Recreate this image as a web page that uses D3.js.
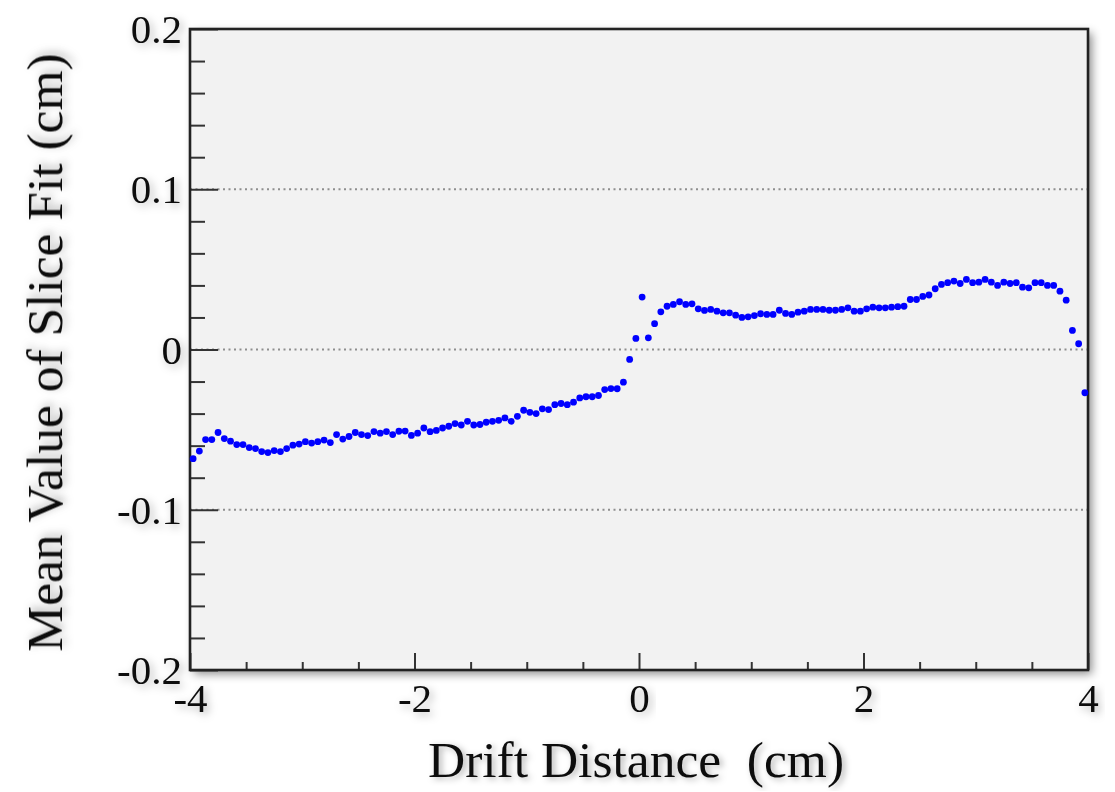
<!DOCTYPE html>
<html>
<head>
<meta charset="utf-8">
<script src="https://cdn.jsdelivr.net/npm/d3@7"></script>
<style>
  body { margin: 0; background: #fff; }
  svg { display: block; }
  .tick text { font-family: "Liberation Serif", "Times New Roman", serif; fill: #111; }
</style>
</head>
<body>
<svg id="chart"></svg>
<script>
// histogram binning of drift distance (cm)
const nBins = 144
const xLo = -4, xHi = 4

// mean value of slice fit per bin (cm)
const meanValues = [
  -0.0681, -0.0634, -0.0562, -0.0562, -0.0518, -0.0556, -0.0572, -0.0593, -0.0593, -0.0612,
  -0.0618, -0.0637, -0.0643, -0.0631, -0.0637, -0.0618, -0.0597, -0.0590, -0.0575, -0.0584,
  -0.0575, -0.0565, -0.0581, -0.0531, -0.0559, -0.0543, -0.0518, -0.0531, -0.0537, -0.0512,
  -0.0522, -0.0512, -0.0531, -0.0510, -0.0509, -0.0536, -0.0522, -0.0490, -0.0513, -0.0505,
  -0.0490, -0.0479, -0.0462, -0.0471, -0.0448, -0.0471, -0.0468, -0.0454, -0.0448, -0.0442,
  -0.0427, -0.0448, -0.0417, -0.0379, -0.0392, -0.0400, -0.0370, -0.0375, -0.0344, -0.0337,
  -0.0344, -0.0329, -0.0302, -0.0295, -0.0295, -0.0287, -0.0250, -0.0244, -0.0245, -0.0204,
  -0.0062, 0.0069, 0.0327, 0.0073, 0.0161, 0.0235, 0.0270, 0.0281, 0.0298, 0.0281,
  0.0285, 0.0254, 0.0244, 0.0250, 0.0239, 0.0229, 0.0229, 0.0214, 0.0200, 0.0204,
  0.0212, 0.0223, 0.0219, 0.0219, 0.0245, 0.0225, 0.0219, 0.0233, 0.0239, 0.0250,
  0.0250, 0.0250, 0.0245, 0.0245, 0.0250, 0.0260, 0.0239, 0.0239, 0.0254, 0.0264,
  0.0260, 0.0260, 0.0264, 0.0267, 0.0270, 0.0312, 0.0312, 0.0331, 0.0340, 0.0379,
  0.0406, 0.0417, 0.0427, 0.0412, 0.0437, 0.0417, 0.0420, 0.0437, 0.0420, 0.0400,
  0.0420, 0.0412, 0.0417, 0.0389, 0.0385, 0.0417, 0.0417, 0.0400, 0.0400, 0.0364,
  0.0308, 0.0119, 0.0036, -0.0270
]

const xMajor = [-4, -2, 0, 2, 4]
const yMajor = [-0.2, -0.1, 0, 0.1, 0.2]
const yGrid = [-0.1, 0, 0.1]

const xTitle = "Drift Distance  (cm)"
const yTitle = "Mean Value of Slice Fit (cm)"

const width = 1115, height = 792
const margin = { top: 29, right: 27, bottom: 122, left: 190 }
const innerWidth = width - margin.left - margin.right
const innerHeight = height - margin.top - margin.bottom

const binW = (xHi - xLo) / nBins
const points = meanValues.map((v, i) => ({ x: xLo + (i + 0.5) * binW, y: v }))

const svg = d3.select("#chart").attr("width", width).attr("height", height)

const defs = svg.append("defs")
defs.append("filter").attr("id", "frameShadow").attr("x", "-5%").attr("y", "-5%").attr("width", "115%").attr("height", "115%")
  .append("feDropShadow").attr("dx", 4).attr("dy", 4).attr("stdDeviation", 5)
  .attr("flood-color", "#000").attr("flood-opacity", 0.45)
defs.append("filter").attr("id", "textShadow").attr("x", "-30%").attr("y", "-30%").attr("width", "160%").attr("height", "160%")
  .append("feDropShadow").attr("dx", 3).attr("dy", 3).attr("stdDeviation", 4)
  .attr("flood-color", "#000").attr("flood-opacity", 0.3)
defs.append("filter").attr("id", "titleShadow").attr("x", "-10%").attr("y", "-20%").attr("width", "120%").attr("height", "125%")
  .append("feDropShadow").attr("dx", 3).attr("dy", 2).attr("stdDeviation", 3)
  .attr("flood-color", "#000").attr("flood-opacity", 0.3)

const group = svg.append("g").attr("transform", `translate(${margin.left}, ${margin.top})`)

const x_scale = d3.scaleLinear().domain([xLo, xHi]).range([0, innerWidth])
const y_scale = d3.scaleLinear().domain([-0.2, 0.2]).range([innerHeight, 0])

// frame background with shadow
group.append("rect").attr("width", innerWidth).attr("height", innerHeight)
  .attr("fill", "#f2f2f2").attr("filter", "url(#frameShadow)")

// dotted grid lines
group.selectAll(".grid").data(yGrid).join("line").attr("class", "grid")
  .attr("x1", 0).attr("x2", innerWidth)
  .attr("y1", d => y_scale(d)).attr("y2", d => y_scale(d))
  .attr("stroke", "#8e8e8e").attr("stroke-width", 2).attr("stroke-dasharray", "2,3.5")

// minor ticks (no labels)
const xMinor = d3.range(-4, 4.001, 0.5).filter(d => !xMajor.includes(d))
const yMinor = d3.range(-0.2, 0.2001, 0.02).map(d => +d.toFixed(2)).filter(d => !yMajor.includes(d))

const xMinorAxis = group.append("g").attr("transform", `translate(0, ${innerHeight})`)
  .call(d3.axisBottom(x_scale).tickValues(xMinor).tickSizeInner(-8).tickSizeOuter(0).tickFormat(""))
  .call(g => g.select(".domain").remove())
xMinorAxis.selectAll("text").remove()
xMinorAxis.selectAll("line").attr("stroke", "#333").attr("stroke-width", 2)

const yMinorAxis = group.append("g")
  .call(d3.axisLeft(y_scale).tickValues(yMinor).tickSizeInner(-15).tickSizeOuter(0).tickFormat(""))
  .call(g => g.select(".domain").remove())
yMinorAxis.selectAll("text").remove()
yMinorAxis.selectAll("line").attr("stroke", "#333").attr("stroke-width", 2)

// major ticks with labels
const xAxis = group.append("g").attr("transform", `translate(0, ${innerHeight})`)
  .call(d3.axisBottom(x_scale).tickValues(xMajor).tickSizeInner(-17).tickSizeOuter(0).tickPadding(13).tickFormat(d => String(d)))
  .call(g => g.select(".domain").remove())
xAxis.selectAll("line").attr("stroke", "#333").attr("stroke-width", 2)
xAxis.selectAll("text").attr("font-size", 41).attr("filter", "url(#textShadow)")

const yAxis = group.append("g")
  .call(d3.axisLeft(y_scale).tickValues(yMajor).tickSizeInner(-28).tickSizeOuter(0).tickPadding(8).tickFormat(d => String(d)))
  .call(g => g.select(".domain").remove())
yAxis.selectAll("line").attr("stroke", "#333").attr("stroke-width", 2)
yAxis.selectAll("text").attr("font-size", 41).attr("dy", "0.33em").attr("filter", "url(#textShadow)")

// frame border
group.append("rect").attr("width", innerWidth).attr("height", innerHeight)
  .attr("fill", "none").attr("stroke", "#222").attr("stroke-width", 2.6)

// data points
group.selectAll(".pt").data(points).join("circle").attr("class", "pt")
  .attr("cx", d => x_scale(d.x)).attr("cy", d => y_scale(d.y))
  .attr("r", 3.4).attr("fill", "#0000ff")

// axis titles
svg.append("text").text(xTitle)
  .attr("x", margin.left + x_scale(0) - 3).attr("y", 777)
  .attr("text-anchor", "middle").attr("font-family", "Liberation Serif, Times New Roman, serif")
  .attr("font-size", 51.5).attr("fill", "#111").style("white-space", "pre")
  .attr("filter", "url(#titleShadow)")

svg.append("text").text(yTitle)
  .attr("transform", `translate(62, ${margin.top + innerHeight / 2 + 3}) rotate(-90)`)
  .attr("text-anchor", "middle").attr("font-family", "Liberation Serif, Times New Roman, serif")
  .attr("font-size", 51.5).attr("fill", "#111")
  .attr("filter", "url(#textShadow)")
</script>
</body>
</html>
